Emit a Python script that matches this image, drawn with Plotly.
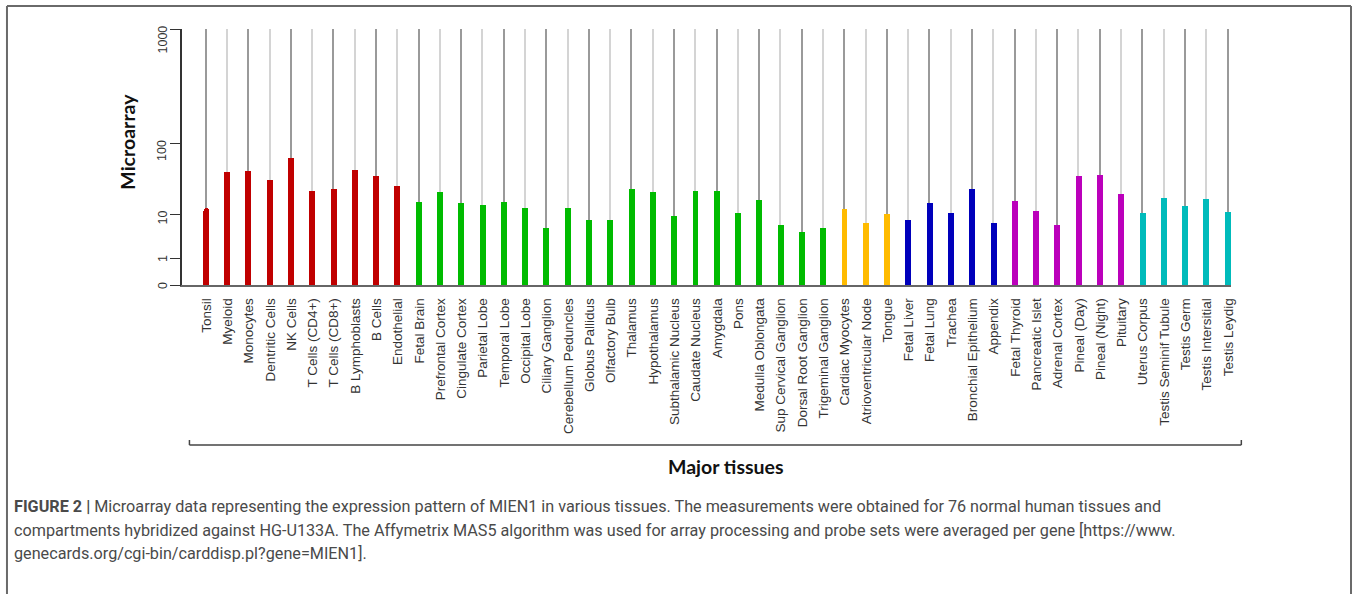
import numpy as np
import plotly.graph_objects as go

# ---------------- data ----------------
tissues = ["Tonsil", "Myeloid", "Monocytes", "Dentritic Cells", "NK Cells", "T Cells (CD4+)",
           "T Cells (CD8+)", "B Lymphoblasts", "B Cells", "Endothelial",
           "Fetal Brain", "Prefrontal Cortex", "Cingulate Cortex", "Parietal Lobe", "Temporal Lobe",
           "Occipital Lobe", "Ciliary Ganglion", "Cerebellum Peduncles", "Globus Pallidus",
           "Olfactory Bulb", "Thalamus", "Hypothalamus", "Subthalamic Nucleus", "Caudate Nucleus",
           "Amygdala", "Pons", "Medulla Oblongata", "Sup Cervical Ganglion", "Dorsal Root Ganglion",
           "Trigeminal Ganglion",
           "Cardiac Myocytes", "Atrioventricular Node", "Tongue",
           "Fetal Liver", "Fetal Lung", "Trachea", "Bronchial Epithelium", "Appendix",
           "Fetal Thyroid", "Pancreatic Islet", "Adrenal Cortex", "Pineal (Day)", "Pineal (Night)",
           "Pituitary",
           "Uterus Corpus", "Testis Seminif Tubule", "Testis Germ", "Testis Intersitial", "Testis Leydig"]

values = [12.3, 38.6, 40.2, 29.9, 61.0, 21.2, 22.8, 41.6, 34.6, 24.8,
          15.0, 20.5, 14.5, 13.2, 15.0, 12.1, 4.8, 12.1, 7.4, 7.4,
          22.5, 20.5, 9.0, 21.2, 21.4, 10.5, 15.7, 5.75, 4.0, 4.8,
          11.6, 6.2, 10.0,
          7.4, 14.5, 10.5, 22.5, 6.2,
          15.2, 10.9, 5.75, 34.6, 35.7, 19.0,
          10.5, 16.9, 13.1, 16.4, 10.8]

groups = (["immune"] * 10 + ["nervous"] * 20 + ["muscle"] * 3 + ["respiratory"] * 5
          + ["endocrine"] * 6 + ["reproductive"] * 5)

tick_values = [0, 1, 10, 100, 1000]
tick_labels = ["0", "1", "10", "100", "1000"]

# ---------------- styles ----------------
W, H = 1357, 594
group_colors = {"immune": "#C00000", "nervous": "#00BB00", "muscle": "#FFBB00",
                "respiratory": "#0000BB", "endocrine": "#BB00BB", "reproductive": "#00BBBB"}

# the chart's own (piecewise) value scale: knots -> axis units
knot_logs = [0, 1, 2, 3]
knot_pos = [27, 71, 142, 256]


def scale(v):
    v = np.asarray(v, dtype=float)
    out = np.where(v < 1, v * knot_pos[0],
                   np.interp(np.log10(np.maximum(v, 1e-9)), knot_logs, knot_pos))
    return out


ys = scale(values)
ticks_pos = scale(tick_values)
top = float(ticks_pos[-1])

fig = go.Figure()

# background needles (alternating grey)
needle_cols = ["#9a9a9a" if i % 2 == 0 else "#d4d4d4" for i in range(len(tissues))]
fig.add_trace(go.Bar(x=tissues, y=[top] * len(tissues), width=0.065,
                     marker=dict(color=needle_cols, line=dict(width=0)),
                     hoverinfo="skip", showlegend=False))

# expression bars
fig.add_trace(go.Bar(x=tissues, y=ys, width=0.28,
                     marker=dict(color=[group_colors[g] for g in groups], line=dict(width=0),
                                 cornerradius=3),
                     customdata=values, hovertemplate="%{x}: %{customdata}<extra></extra>",
                     showlegend=False))


def px(x):
    return x / W


def py(y):
    return 1 - y / H


x0, x1 = 183, 1235
ybase, ytop = 285, 29

fig.update_layout(
    width=W, height=H, autosize=False,
    margin=dict(l=0, r=0, t=0, b=0),
    paper_bgcolor="white", plot_bgcolor="white",
    barmode="overlay", bargap=0,
    xaxis=dict(domain=[px(x0), px(x1)], range=[-1.12, len(tissues) - 0.85],
               showgrid=False, zeroline=False, showline=True, linecolor="#666666", linewidth=1.5,
               ticks="", tickangle=-90, ticklabelstandoff=6,
               tickfont=dict(family="Liberation Sans, Arial", size=13.5, color="#333333")),
    yaxis=dict(domain=[py(ybase), py(ytop)], range=[0, top],
               showgrid=False, zeroline=False, showline=True, linecolor="#333333", linewidth=1.5,
               tickmode="array", tickvals=list(ticks_pos), ticktext=tick_labels,
               ticks="outside", ticklen=11, tickwidth=1.3, tickcolor="#333333",
               showticklabels=False),
    font=dict(family="Liberation Sans, Arial", color="#333333"),
)

annotations = []
# y tick labels (vertical), placed relative to the axis pixel scale
plot_h = ybase - ytop
for tp, lab in zip(ticks_pos, tick_labels):
    ypix = ybase - float(tp) / top * plot_h
    annotations.append(dict(x=px(163), xref="paper", y=py(ypix - 5), yref="paper",
                            text=lab, textangle=-90, showarrow=False,
                            xanchor="center", yanchor="top",
                            font=dict(family="Liberation Sans, Arial", size=12.5, color="#333333")))

# axis titles
annotations.append(dict(x=px(127), y=py(142), xref="paper", yref="paper", text="<b>Microarray</b>",
                        textangle=-90, showarrow=False, xanchor="center", yanchor="middle",
                        font=dict(family="Lato, Open Sans", size=19.5, color="#111111")))
annotations.append(dict(x=px(728), y=py(466), xref="paper", yref="paper", text="<b>Major tissues</b>",
                        showarrow=False, xanchor="center", yanchor="middle",
                        font=dict(family="Lato, Open Sans", size=19.5, color="#111111")))

# caption
cap_font = dict(family="Roboto, Arial", size=16.2, color="#4a4a4a")
cap_lines = [
    "<b>FIGURE 2 |</b> Microarray data representing the expression pattern of MIEN1 in various tissues. "
    "The measurements were obtained for 76 normal human tissues and",
    "compartments hybridized against HG-U133A. The Affymetrix MAS5 algorithm was used for array "
    "processing and probe sets were averaged per gene [https://www.",
    "genecards.org/cgi-bin/carddisp.pl?gene=MIEN1].",
]
for i, line in enumerate(cap_lines):
    annotations.append(dict(x=px(12), y=py(507 + 23 * i), xref="paper", yref="paper", text=line,
                            showarrow=False, xanchor="left", yanchor="middle", font=cap_font))

fig.update_layout(annotations=annotations)

shapes = []
# bracket under labels
bc = dict(color="#444444", width=1.5)
shapes.append(dict(type="line", xref="paper", yref="paper", x0=px(190), x1=px(1245),
                   y0=py(445), y1=py(445), line=bc))
shapes.append(dict(type="line", xref="paper", yref="paper", x0=px(190), x1=px(190),
                   y0=py(445), y1=py(440), line=bc))
shapes.append(dict(type="line", xref="paper", yref="paper", x0=px(1245), x1=px(1245),
                   y0=py(445), y1=py(440), line=bc))
# figure frame
fc = dict(color="#6a6a6a", width=2)
shapes.append(dict(type="line", xref="paper", yref="paper", x0=px(7), x1=px(1355),
                   y0=py(6), y1=py(6), line=fc))
shapes.append(dict(type="line", xref="paper", yref="paper", x0=px(7), x1=px(7),
                   y0=py(6), y1=py(600), line=fc))
shapes.append(dict(type="line", xref="paper", yref="paper", x0=px(1355), x1=px(1355),
                   y0=py(6), y1=py(600), line=fc))
fig.update_layout(shapes=shapes)

fig.write_html("out.html", config={"displayModeBar": False},
               post_script="document.body.style.margin='0';")
